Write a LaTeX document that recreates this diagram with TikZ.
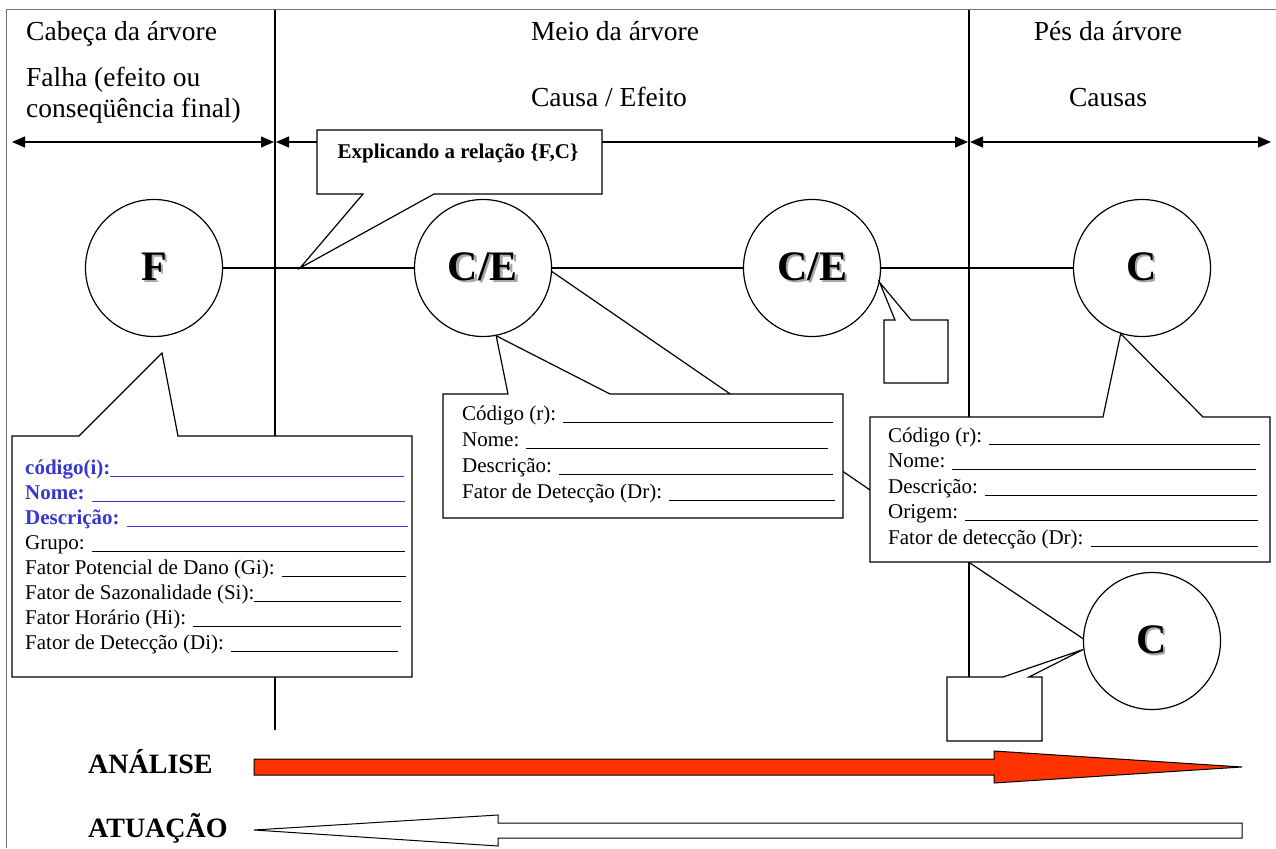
\documentclass[tikz,border=0pt]{standalone}
\usepackage{fontspec}
\setmainfont{Liberation Serif}
\usetikzlibrary{arrows.meta,positioning}
\definecolor{azul}{RGB}{55,55,210}
\definecolor{vermelho}{RGB}{255,51,0}
\newcommand\campo{\leaders\hrule height -1.6pt depth 2.6pt\hfill\kern0pt}
\newcommand\preencher[2]{\hbox to #1{#2\campo}}
\newcommand\sombra[1]{\makebox[0pt][l]{\kern2pt\raisebox{-2pt}{\textcolor{black!35}{#1}}}#1}
\tikzset{
moldura/.style={draw=black!55,line width=1pt},
divisor/.style={line width=1.3pt},
ramo/.style={line width=1.2pt},
cota/.style={{Triangle[length=13pt,width=11pt]}-{Triangle[length=13pt,width=11pt]},line width=1.2pt},
circulo/.style={draw,circle,line width=1.2pt,minimum size=137pt,inner sep=0pt,fill=white,font=\fontsize{42}{42}\selectfont\bfseries},
caixa/.style={draw,fill=white,line width=1.2pt},
titulo/.style={inner sep=0pt,font=\fontsize{27.5}{31}\selectfont},
ficha/.style={inner sep=0pt,anchor=base west,font=\fontsize{21}{25}\selectfont},
acao/.style={inner sep=0pt,anchor=base west,font=\fontsize{28}{28}\selectfont\bfseries}
}
\begin{document}
\begin{tikzpicture}[x=1pt,y=-1pt]
\useasboundingbox (0,0) rectangle (1276,848);
% moldura e divisores
\draw[moldura] (6,848) -- (6,10) -- (1276,10);
\draw[divisor] (275,10) -- (275,730);
\draw[divisor] (969,10) -- (969,677);

% titulos
\node[titulo,anchor=base west] (cabeca) at (26,41) {Cabeça da árvore};
\node[titulo,anchor=base] (meio) at (615,41) {Meio da árvore};
\node[titulo,anchor=base] (pes) at (1108,41) {Pés da árvore};
\node[titulo,anchor=base west] (falha) at (26,87) {\begin{tabular}[t]{@{}l@{}}Falha (efeito ou\\conseqüência final)\end{tabular}};
\node[titulo,anchor=base] (causaefeito) at (609,107) {Causa / Efeito};
\node[titulo,anchor=base] (causas) at (1108,107) {Causas};

% cotas
\coordinate (c0) at (12,142);
\coordinate (c1) at (274,142);
\coordinate (c2) at (276,142);
\coordinate (c3) at (968,142);
\coordinate (c4) at (970,142);
\coordinate (c5) at (1271,142);
\draw[cota] (c0) -- (c1);
\draw[cota] (c2) -- (c3);
\draw[cota] (c4) -- (c5);

% arvore
\node[circulo] (F) at (154,268) {\sombra{F}};
\node[circulo] (CE1) at (483,268) {\sombra{C/E}};
\node[circulo] (CE2) at (812,268) {\sombra{C/E}};
\node[circulo] (C) at (1142,268) {\sombra{C}};
\node[circulo] (C2) at (1152,641) {\sombra{C}};
\draw[ramo] (F) -- (CE1);
\draw[ramo] (CE1) -- (CE2);
\draw[ramo] (CE2) -- (C);
\draw[ramo] (CE1.-3) -- (870,490);

% balao da relacao
\draw[caixa] (317,130) -- (602,130) -- (602,194) -- (434,194) -- (300,268) -- (363,194) -- (317,194) -- cycle;
\node[inner sep=0pt,anchor=base,font=\fontsize{21}{25}\selectfont\bfseries] (relacao) at (458,158) {Explicando a relação \{F,C\}};

% ficha da falha
\draw[caixa] (12,436) -- (79,436) -- (162,353) -- (178,436) -- (412,436) -- (412,677) -- (12,677) -- cycle;
\node[ficha] (fichaF) at (25,474) {\begin{tabular}[t]{@{}l@{}}
{\color{azul}\bfseries\preencher{379pt}{código(i):}}\\
{\color{azul}\bfseries\preencher{380pt}{Nome: }}\\
{\color{azul}\bfseries\preencher{383pt}{Descrição: }}\\
\preencher{380pt}{Grupo: }\\
\preencher{381pt}{Fator Potencial de Dano (Gi): }\\
\preencher{376pt}{Fator de Sazonalidade (Si):}\\
\preencher{376pt}{Fator Horário (Hi): }\\
\preencher{373pt}{Fator de Detecção (Di): }
\end{tabular}};

% ficha da causa/efeito
\draw[caixa] (443,394) -- (508,394) -- (CE1.281) -- (610,394) -- (843,394) -- (843,518) -- (443,518) -- cycle;
\node[ficha,font=\fontsize{21}{26}\selectfont] (fichaCE) at (462,420) {\begin{tabular}[t]{@{}l@{}}
\preencher{371pt}{Código (r): }\\
\preencher{366pt}{Nome: }\\
\preencher{371pt}{Descrição: }\\
\preencher{373pt}{Fator de Detecção (Dr): }
\end{tabular}};

% ficha da causa
\draw[caixa] (870,417) -- (1103,417) -- (C.252) -- (1203,417) -- (1270,417) -- (1270,562) -- (870,562) -- cycle;
\node[ficha,font=\fontsize{21}{25.5}\selectfont] (fichaC) at (888,442) {\begin{tabular}[t]{@{}l@{}}
\preencher{372pt}{Código (r): }\\
\preencher{368pt}{Nome: }\\
\preencher{369pt}{Descrição: }\\
\preencher{370pt}{Origem: }\\
\preencher{370pt}{Fator de detecção (Dr): }
\end{tabular}};
\draw[ramo] (970,563) -- (C2.178);

% baloes vazios
\draw[caixa] (884,320) -- (895,320) -- (CE2.-12) -- (911,320) -- (948,320) -- (948,383) -- (884,383) -- cycle;
\draw[caixa] (947,677) -- (1003,677) -- (C2.187) -- (1029,677) -- (1042,677) -- (1042,741) -- (947,741) -- cycle;

% analise e atuacao
\node[acao] (analise) at (88,773) {ANÁLISE};
\node[acao] (atuacao) at (88,837) {ATUAÇÃO};
\draw[fill=vermelho,line width=1pt] (254,759) -- (994,759) -- (994,751) -- (1242,767) -- (994,783) -- (994,775) -- (254,775) -- cycle;
\draw[fill=white,line width=1pt] (254,830) -- (498,815) -- (498,823) -- (1242,823) -- (1242,838) -- (498,838) -- (498,846) -- cycle;
\end{tikzpicture}
\end{document}
